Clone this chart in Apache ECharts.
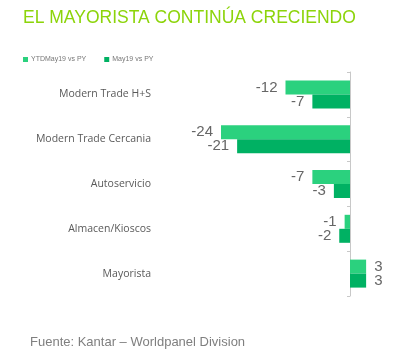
<!DOCTYPE html>
<html><head><meta charset="utf-8">
<script src="https://cdn.jsdelivr.net/npm/echarts@6/dist/echarts.min.js"></script>
<style>html,body{margin:0;padding:0;background:#fff}#c{width:403px;height:360px}</style>
</head><body><div id="c"></div>
<script>
var categories = ['Modern Trade H+S', 'Modern Trade Cercania', 'Autoservicio', 'Almacen/Kioscos', 'Mayorista'];
var ytdValues = [-12, -24, -7, -1, 3];
var mayValues = [-7, -21, -3, -2, 3];
var seriesNames = ['YTDMay19 vs PY', 'May19 vs PY'];

function toData(arr) {
  return arr.map(function (v) {
    return { value: v, label: { position: v < 0 ? 'left' : 'right' } };
  });
}
var labelStyle = { show: true, distance: 8, color: '#666', fontSize: 15, fontFamily: 'Liberation Sans' };

var chart = echarts.init(document.getElementById('c'));
chart.setOption({
  animation: false,
  title: {
    text: 'EL MAYORISTA CONTINÚA CRECIENDO',
    left: 18, top: 4,
    textStyle: { color: '#8CD40A', fontSize: 17.5, fontWeight: 'normal', fontFamily: 'Liberation Sans' }
  },
  graphic: [{
    type: 'text', left: 30, top: 336,
    style: { text: 'Fuente: Kantar – Worldpanel Division', fill: '#7f7f7f', fontSize: 13, fontFamily: 'Liberation Sans' }
  }],
  legend: {
    left: 18, top: 51, itemWidth: 5, itemHeight: 5, itemGap: 18,
    icon: 'rect',
    textStyle: { fontSize: 7, color: '#777', fontFamily: 'Liberation Sans', padding: [0, 0, 0, -2] },
    data: seriesNames
  },
  grid: { left: 221, right: 10, top: 72, bottom: 64, containLabel: false, outerBoundsMode: 'none' },
  xAxis: {
    type: 'value', min: -24, max: 8, show: false
  },
  yAxis: {
    type: 'category', inverse: true, data: categories,
    axisLine: { show: true, onZero: true, lineStyle: { color: '#c8c8c8' } },
    axisTick: { show: true, length: 3, lineStyle: { color: '#c8c8c8' } },
    axisLabel: { margin: 70, color: '#595959', fontSize: 10.5, fontFamily: 'Open Sans' }
  },
  series: [
    { name: seriesNames[0], type: 'bar', data: toData(ytdValues), barWidth: 14, barGap: '0%',
      itemStyle: { color: '#2BD17E' }, label: labelStyle },
    { name: seriesNames[1], type: 'bar', data: toData(mayValues), barWidth: 14, barGap: '0%',
      itemStyle: { color: '#00B163' }, label: labelStyle }
  ]
});
</script></body></html>
